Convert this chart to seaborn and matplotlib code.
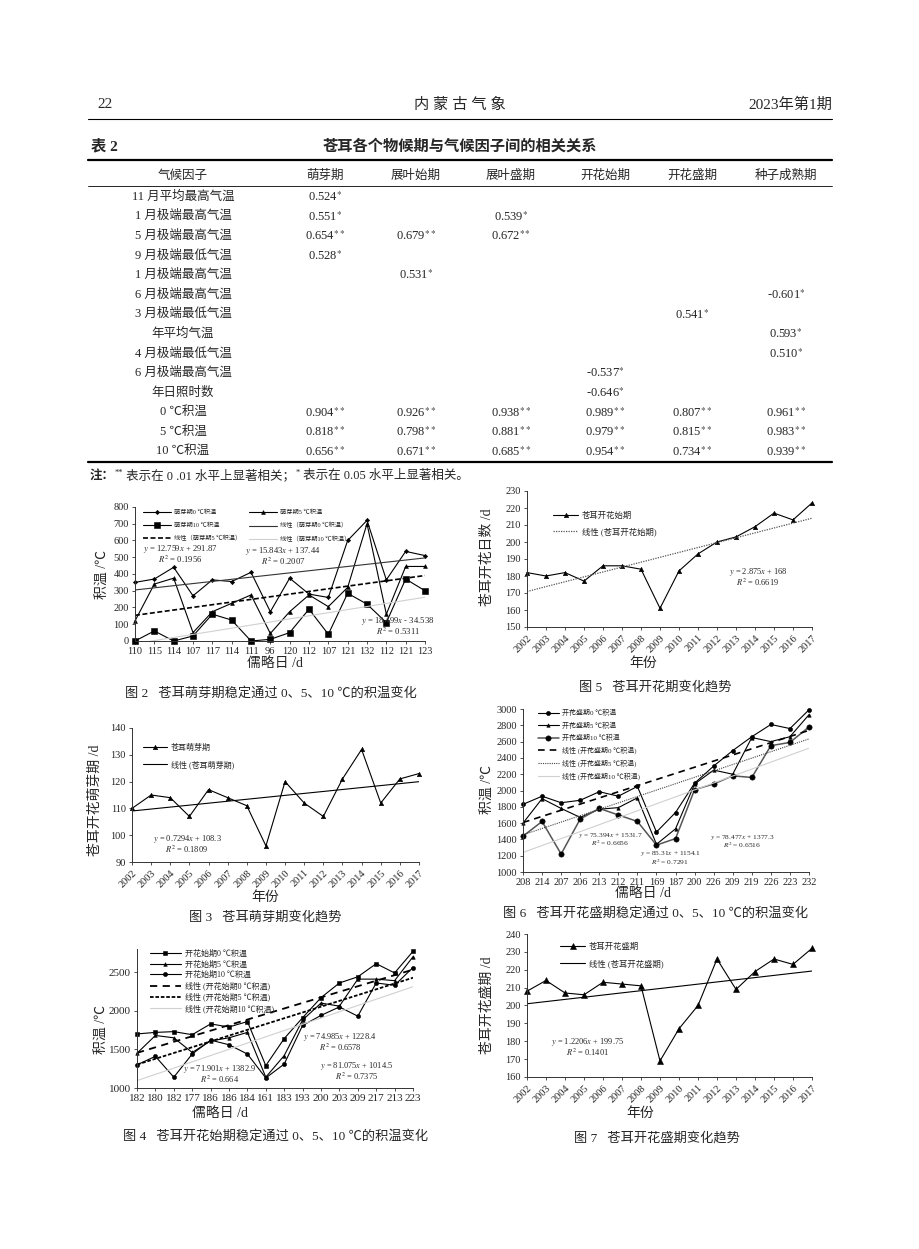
import numpy as np
import matplotlib
matplotlib.use("Agg")
import matplotlib.pyplot as plt
import seaborn as sns

sns.set_style("ticks")
plt.rcParams["font.family"] = ["Liberation Serif", "Noto Sans CJK SC", "DejaVu Sans"]
plt.rcParams["mathtext.fontset"] = "stix"
plt.rcParams["axes.unicode_minus"] = False

# ---------------- data ----------------
years = ["2002", "2003", "2004", "2005", "2006", "2007", "2008", "2009",
         "2010", "2011", "2012", "2013", "2014", "2015", "2016", "2017"]

# Table 2
factors = ["11 月平均最高气温", "1 月极端最高气温", "5 月极端最高气温", "9 月极端最低气温",
           "1 月极端最高气温", "6 月极端最高气温", "3 月极端最低气温", "年平均气温",
           "4 月极端最低气温", "6 月极端最高气温", "年日照时数", "0 ℃积温", "5 ℃积温", "10 ℃积温"]
periods = ["萌芽期", "展叶始期", "展叶盛期", "开花始期", "开花盛期", "种子成熟期"]
r_mengya = ["0.524*", "0.551*", "0.654**", "0.528*", "", "", "", "", "", "", "", "0.904**", "0.818**", "0.656**"]
r_zhanye_shi = ["", "", "0.679**", "", "0.531*", "", "", "", "", "", "", "0.926**", "0.798**", "0.671**"]
r_zhanye_sheng = ["", "0.539*", "0.672**", "", "", "", "", "", "", "", "", "0.938**", "0.881**", "0.685**"]
r_kaihua_shi = ["", "", "", "", "", "", "", "", "", "-0.537*", "-0.646*", "0.989**", "0.979**", "0.954**"]
r_kaihua_sheng = ["", "", "", "", "", "", "0.541*", "", "", "", "", "0.807**", "0.815**", "0.734**"]
r_zhongzi = ["", "", "", "", "", "-0.601*", "", "0.593*", "0.510*", "", "", "0.961**", "0.983**", "0.939**"]

# Fig 2: germination accumulated temperature
f2_days = ["110", "115", "114", "107", "117", "114", "111", "96",
           "120", "112", "107", "121", "132", "112", "121", "123"]
f2_t0 = [350, 370, 440, 270, 365, 355, 410, 175, 375, 280, 260, 600, 720, 365, 535, 510]
f2_t5 = [120, 340, 375, 50, 175, 225, 275, 45, 175, 275, 205, 320, 700, 160, 445, 445]
f2_t10 = [0, 60, 0, 30, 160, 125, 0, 10, 50, 190, 40, 285, 220, 110, 370, 300]
f2_fit0 = [12.759, 291.87, 0.1956]
f2_fit5 = [15.843, 137.44, 0.2007]
f2_fit10 = [18.499, -34.538, 0.5311]

# Fig 5: flowering start day
f5_days = [182, 180, 182, 177, 186, 186, 184, 161, 183, 193, 200, 203, 209, 217, 213, 223]
f5_fit = [2.875, 168, 0.6619]

# Fig 3: germination day
f3_days = [110, 115, 114, 107, 117, 114, 111, 96, 120, 112, 107, 121, 132, 112, 121, 123]
f3_fit = [0.7294, 108.3, 0.1809]

# Fig 6: full-flowering accumulated temperature
f6_days = ["208", "214", "207", "206", "213", "212", "211", "169",
           "187", "200", "226", "209", "219", "226", "223", "232"]
f6_t0 = [1830, 1930, 1850, 1880, 1985, 1930, 2050, 1490, 1730, 2090, 2300, 2490, 2660, 2810, 2760, 2990]
f6_t5 = [1600, 1900, 1780, 1670, 1770, 1790, 1910, 1340, 1530, 2080, 2250, 2200, 2650, 2600, 2660, 2930]
f6_t10 = [1440, 1620, 1220, 1650, 1780, 1700, 1620, 1330, 1410, 2010, 2080, 2180, 2160, 2550, 2590, 2780]
f6_fit0 = [75.394, 1531.7, 0.6656]
f6_fit5 = [78.477, 1377.3, 0.6516]
f6_fit10 = [85.31, 1154.1, 0.7291]

# Fig 4: flowering-start accumulated temperature
f4_days = ["182", "180", "182", "177", "186", "186", "184", "161",
           "183", "193", "200", "203", "209", "217", "213", "223"]
f4_t0 = [1700, 1720, 1730, 1690, 1830, 1790, 1860, 1290, 1640, 1910, 2170, 2360, 2440, 2610, 2490, 2770]
f4_t5 = [1450, 1680, 1650, 1460, 1610, 1650, 1720, 1140, 1420, 1880, 2100, 2060, 2410, 2410, 2390, 2700]
f4_t10 = [1300, 1410, 1140, 1440, 1620, 1560, 1440, 1130, 1310, 1810, 1940, 2050, 1930, 2360, 2330, 2560]
f4_fit0 = [71.901, 1382.9, 0.664]
f4_fit5 = [74.985, 1228.4, 0.6578]
f4_fit10 = [81.075, 1014.5, 0.7375]

# Fig 7: full-flowering day
f7_days = [208, 214, 207, 206, 213, 212, 211, 169, 187, 200, 226, 209, 219, 226, 223, 232]
f7_fit = [1.2206, 199.75, 0.1401]

# ---------------- figure ----------------
W, H = 920, 1249
fig = plt.figure(figsize=(W / 100, H / 100), dpi=100)
fig.patch.set_facecolor("white")
renderer = fig.canvas.get_renderer()
idx = np.arange(16)


def fx(x):
    return x / W


def fy(y):
    return 1 - y / H


def ftext(x, y, s, **kw):
    kw.setdefault("va", "center")
    kw.setdefault("ha", "center")
    return fig.text(fx(x), fy(y), s, **kw)


def hline(x0, x1, y, lw, color="k"):
    fig.add_artist(plt.Line2D([fx(x0), fx(x1)], [fy(y), fy(y)], lw=lw, color=color,
                              transform=fig.transFigure))


def chain(x, y, parts):
    """Write text pieces one after another on one row."""
    for s, kw in parts:
        t = ftext(x + kw.pop("dx", 0), y + kw.pop("dy", 0), s, ha="left", **kw)
        bb = t.get_window_extent(renderer)
        x = bb.x1


# header
ftext(97, 105, "22", ha="left", fontsize=11)
ftext(460, 105, "内 蒙 古 气 象", fontsize=11)
ftext(832, 105, "2023年第1期", ha="right", fontsize=11)
hline(88, 832, 119, 0.8)

# table
ftext(91, 146, "表 2", ha="left", fontsize=11, fontweight="bold")
ftext(460, 146, "苍耳各个物候期与气候因子间的相关关系", fontsize=11, fontweight="bold")
hline(88, 832, 160, 1.6)
hline(88, 832, 186, 0.6)
hline(88, 832, 462, 1.6)
col_x = [325, 416, 511, 605, 692, 786]
ftext(183, 176, "气候因子", fontsize=9)
for cx, p in zip(col_x, periods):
    ftext(cx, 176, p, fontsize=9)
row_y = 196.5 + 19.6 * np.arange(len(factors))
columns = [r_mengya, r_zhanye_shi, r_zhanye_sheng, r_kaihua_shi, r_kaihua_sheng, r_zhongzi]
for ry, f in zip(row_y, factors):
    ftext(183, ry, f, fontsize=9)
for cx, col in zip(col_x, columns):
    for ry, s in zip(row_y, col):
        if not s:
            continue
        num = s.rstrip("*")
        stars = s[len(num):]
        ftext(cx, ry, num + r"$^{" + r"\ast" * len(stars) + "}$", fontsize=9)
chain(90, 476, [("注：", dict(fontsize=9, fontweight="bold")),
                ("**", dict(fontsize=6, dy=-3)),
                (" 表示在 0 .01 水平上显著相关；", dict(fontsize=9)),
                ("*", dict(fontsize=6, dy=-3)),
                (" 表示在 0.05 水平上显著相关。", dict(fontsize=9))])


# ---------------- charts ----------------
def add_ax(l, t, r, b):
    ax = fig.add_axes([fx(l), fy(b), (r - l) / W, (b - t) / H])
    ax.set_facecolor("none")
    return ax


def style(ax, xlabels, ylim, yticks, rot=0, fs=7.5):
    ax.set_xlim(0, 15)
    ax.set_ylim(*ylim)
    ax.set_yticks(yticks)
    ax.set_xticks(idx)
    if rot:
        ax.set_xticklabels(xlabels, rotation=rot, ha="right", rotation_mode="anchor")
    else:
        ax.set_xticklabels(xlabels)
    for s in ["top", "right"]:
        ax.spines[s].set_visible(False)
    for s in ["left", "bottom"]:
        ax.spines[s].set_color("#333333")
        ax.spines[s].set_linewidth(0.7)
    ax.tick_params(labelsize=fs, length=2.5, width=0.6, color="#333333", pad=2)
    ax.set_xlabel("")
    ax.set_ylabel("")


def series(ax, y, marker, ms, color="k", lw=0.8):
    sns.lineplot(x=idx, y=y, ax=ax, color=color, marker=marker, markersize=ms, linewidth=lw,
                 markeredgecolor="k", markerfacecolor="k", markeredgewidth=0.4,
                 clip_on=False, legend=False, errorbar=None)
    return ax.get_lines()[-1]


def trend(ax, fit, color="k", lw=0.9, dashes=None):
    yv = fit[0] * (idx + 1) + fit[1]
    sns.lineplot(x=idx, y=yv, ax=ax, color=color, linewidth=lw, legend=False, errorbar=None)
    ln = ax.get_lines()[-1]
    if dashes is not None:
        ln.set_dashes(dashes)
    return ln


def eq(x, y, fit, fs=6, gap=10):
    ftext(x, y, r"$y$ = %s$x$ %s %s" % (fit[0], "-" if fit[1] < 0 else "+", abs(fit[1])), fontsize=fs)
    ftext(x, y + gap, r"$R^2$ = %s" % fit[2], fontsize=fs)


def legend(ax, handles, labels, x, y, fs, ncol=1, spacing=0.6, colsp=2.0, hl=3.0):
    ax.legend(handles, labels, loc="upper left", bbox_to_anchor=(fx(x), fy(y)),
              bbox_transform=fig.transFigure, frameon=False, fontsize=fs, ncol=ncol,
              labelspacing=spacing, columnspacing=colsp, handlelength=hl, handletextpad=0.5,
              borderpad=0, borderaxespad=0)


# Fig 2
ax2 = add_ax(135, 507, 425, 641)
l0 = series(ax2, f2_t0, "D", 2.2)
l5 = series(ax2, f2_t5, "^", 2.8)
l10 = series(ax2, f2_t10, "s", 4.2)
t0 = trend(ax2, f2_fit0, color="#333333", lw=0.8)
t5 = trend(ax2, f2_fit5, color="k", lw=1.2, dashes=(3, 1.5))
t10 = trend(ax2, f2_fit10, color="#d0d0d0", lw=0.8)
style(ax2, f2_days, (0, 800), np.arange(0, 801, 100), fs=7.5)
legend(ax2, [l0, l10, t5, l5, t0, t10],
       ["萌芽期0 ℃积温", "萌芽期10 ℃积温", "线性（萌芽期5 ℃积温）",
        "萌芽期5 ℃积温", "线性（萌芽期0 ℃积温）", "线性（萌芽期10 ℃积温）"],
       143, 510, 4.5, ncol=2, spacing=1.15, colsp=1.2, hl=4.5)
eq(180, 549, f2_fit0, fs=6.2)
eq(283, 551, f2_fit5, fs=6.2)
eq(398, 621, f2_fit10, fs=6.2)
ftext(103, 574, "积温 /℃", rotation=90, fontsize=10)
ftext(275, 664, "儒略日 /d", fontsize=10)
ftext(271, 693, "图 2   苍耳萌芽期稳定通过 0、5、10 ℃的积温变化", fontsize=9.5)

# Fig 5
ax5 = add_ax(527, 491, 812, 627)
a5 = series(ax5, f5_days, "^", 3.2)
b5 = trend(ax5, f5_fit, color="#555555", lw=0.9, dashes=(1, 1))
style(ax5, years, (150, 230), np.arange(150, 231, 10), rot=45, fs=7.5)
legend(ax5, [a5, b5], ["苍耳开花始期", "线性 (苍耳开花始期)"], 553, 512, 6, spacing=0.9)
eq(758, 572, f5_fit)
ftext(487, 557, "苍耳开花日数 /d", rotation=90, fontsize=10)
ftext(643, 663, "年份", fontsize=10)
ftext(655, 687, "图 5   苍耳开花期变化趋势", fontsize=9.5)

# Fig 3
ax3 = add_ax(132, 728, 419, 862)
a3 = series(ax3, f3_days, "^", 3.2)
b3 = trend(ax3, f3_fit, color="k", lw=0.8)
style(ax3, years, (90, 140), np.arange(90, 141, 10), rot=45, fs=7.5)
legend(ax3, [a3, b3], ["苍耳萌芽期", "线性 (苍耳萌芽期)"], 143, 744, 5.8, spacing=1.0)
eq(187, 839, f3_fit)
ftext(95, 800, "苍耳开花萌芽期 /d", rotation=90, fontsize=10)
ftext(265, 897, "年份", fontsize=10)
ftext(265, 917, "图 3   苍耳萌芽期变化趋势", fontsize=9.5)

# Fig 6
ax6 = add_ax(523, 709, 809, 872)
a6 = series(ax6, f6_t0, "o", 3.0)
b6 = series(ax6, f6_t5, "^", 2.5)
c6 = series(ax6, f6_t10, "o", 3.8, color="#555555", lw=1.1)
d6 = trend(ax6, f6_fit0, color="k", lw=1.2, dashes=(4, 3))
e6 = trend(ax6, f6_fit5, color="#444444", lw=0.8, dashes=(1, 1))
g6 = trend(ax6, f6_fit10, color="#d0d0d0", lw=0.8)
style(ax6, f6_days, (1000, 3000), np.arange(1000, 3001, 200), fs=7.5)
legend(ax6, [a6, b6, c6, d6, e6, g6],
       ["开花盛期0 ℃积温", "开花盛期5 ℃积温", "开花盛期10 ℃积温",
        "线性 (开花盛期0 ℃积温)", "线性 (开花盛期5 ℃积温)", "线性 (开花盛期10 ℃积温)"],
       538, 709, 5.0, spacing=0.75)
eq(610, 835, f6_fit0, fs=5.3, gap=8.5)
eq(670, 854, f6_fit10, fs=5.3, gap=8.5)
eq(742, 837, f6_fit5, fs=5.3, gap=8.5)
ftext(488, 790, "积温 /℃", rotation=90, fontsize=10)
ftext(643, 893, "儒略日 /d", fontsize=10)
ftext(656, 913, "图 6   苍耳开花盛期稳定通过 0、5、10 ℃的积温变化", fontsize=9.5)

# Fig 4
ax4 = add_ax(137, 949, 413, 1088)
a4 = series(ax4, f4_t0, "s", 3.0)
b4 = series(ax4, f4_t5, "^", 2.6)
c4 = series(ax4, f4_t10, "o", 3.0)
d4 = trend(ax4, f4_fit0, color="k", lw=1.3, dashes=(4, 3))
e4 = trend(ax4, f4_fit5, color="k", lw=1.3, dashes=(2, 1))
g4 = trend(ax4, f4_fit10, color="#d0d0d0", lw=0.8)
style(ax4, f4_days, (1000, 2800), [1000, 1500, 2000, 2500], fs=8)
legend(ax4, [a4, b4, c4, d4, e4, g4],
       ["开花始期0 ℃积温", "开花始期5 ℃积温", "开花始期10 ℃积温",
        "线性 (开花始期0 ℃积温)", "线性 (开花始期5 ℃积温)", "线性 (开花始期10 ℃积温)"],
       150, 950, 5.8, spacing=0.3, hl=3.8)
eq(340, 1037, f4_fit5)
eq(220, 1069, f4_fit0)
eq(357, 1066, f4_fit10)
ftext(102, 1030, "积温 /℃", rotation=90, fontsize=10)
ftext(220, 1114, "儒略日 /d", fontsize=10)
ftext(276, 1136, "图 4   苍耳开花始期稳定通过 0、5、10 ℃的积温变化", fontsize=9.5)

# Fig 7
ax7 = add_ax(527, 934, 812, 1077)
a7 = series(ax7, f7_days, "^", 4.2)
b7 = trend(ax7, f7_fit, color="k", lw=0.8)
style(ax7, years, (160, 240), np.arange(160, 241, 10), rot=45, fs=7.5)
legend(ax7, [a7, b7], ["苍耳开花盛期", "线性 (苍耳开花盛期)"], 560, 943, 6, spacing=1.0)
eq(588, 1042, f7_fit)
ftext(487, 1005, "苍耳开花盛期 /d", rotation=90, fontsize=10)
ftext(640, 1113, "年份", fontsize=10)
ftext(657, 1138, "图 7   苍耳开花盛期变化趋势", fontsize=9.5)

fig.savefig("out.png", dpi=100, facecolor="white")
